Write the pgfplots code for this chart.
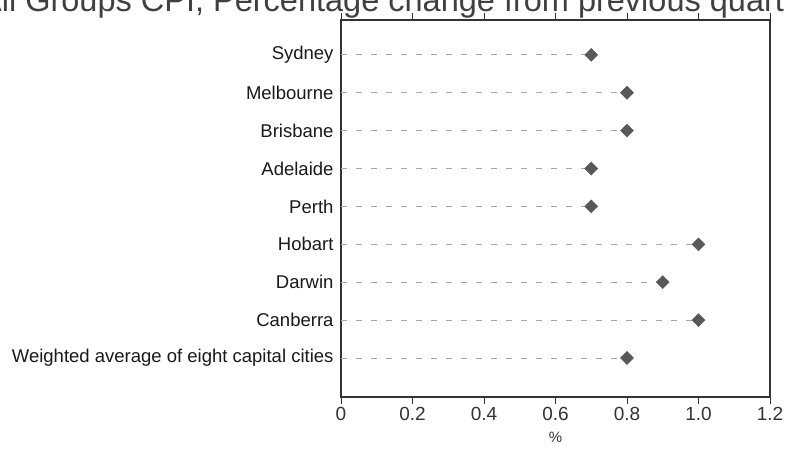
\documentclass[border=0pt]{standalone}
\usepackage{pgfplots}
\pgfplotsset{compat=1.18}
\usepackage{fontspec}
\setmainfont{Liberation Sans}

\definecolor{axisgray}{HTML}{333333}
\definecolor{dashgray}{HTML}{A8A8A8}
\definecolor{markgray}{HTML}{585858}

\begin{document}
\begin{tikzpicture}[x=1pt,y=1pt]
\begin{axis}[
  at={(341pt,52pt)}, anchor=south west,
  width=429pt, height=377pt, scale only axis,
  xmin=0, xmax=1.2,
  ymin=0.08, ymax=10.03, y dir=reverse,
  xtick={0,0.2,0.4,0.6,0.8,1.0,1.2},
  xticklabels={0,0.2,0.4,0.6,0.8,1.0,1.2},
  ytick={1,2,3,4,5,6,7,8,9},
  yticklabels={Sydney,Melbourne,Brisbane,Adelaide,Perth,Hobart,Darwin,Canberra,Weighted average of eight capital cities},
  xtick pos=both, tick align=outside,
  major tick length=7pt,
  ytick style={draw=none},
  x tick style={axisgray, line width=0.9pt},
  axis line style={axisgray, line width=1.1pt},
  /pgf/number format/assume math mode=true,
  xticklabel style={font=\fontsize{19}{21}\selectfont, text=axisgray},
  yticklabel style={font=\fontsize{18.5}{20}\selectfont, text=black!90, xshift=3pt},
  xlabel={\%},
  xlabel style={at={(axis description cs:0.5,-0.106)}, anchor=center,
    font=\fontsize{15}{17}\selectfont, text=axisgray},
]
\addplot[xcomb, dashgray, line width=0.9pt, dash pattern=on 6pt off 9pt] coordinates {
  (0.7,1) (0.8,2) (0.8,3) (0.7,4) (0.7,5) (1.0,6) (0.9,7) (1.0,8) (0.8,9)
};
\addplot[only marks, mark=square*, mark size=4.6pt,
  mark options={rotate=45, fill=markgray, draw=markgray}] coordinates {
  (0.7,1) (0.8,2) (0.8,3) (0.7,4) (0.7,5) (1.0,6) (0.9,7) (1.0,8) (0.8,9)
};
\end{axis}
% title as in the reference: only its lower part lies inside the picture
\node[anchor=base west, inner sep=0, text=black!75,
  font=\fontsize{32.5}{36}\selectfont] at (-20,437)
  {All Groups CPI, Percentage change from previous quarter};
\pgfresetboundingbox
\useasboundingbox (0,0) rectangle (785,449);
\end{tikzpicture}
\end{document}
